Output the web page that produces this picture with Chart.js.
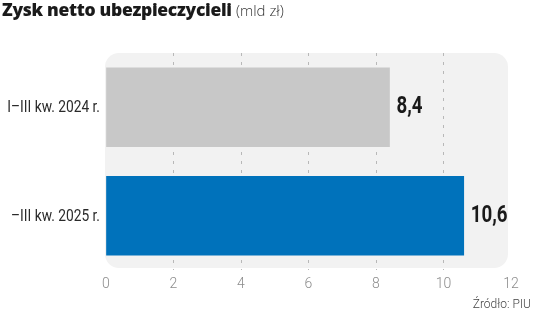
<!DOCTYPE html>
<html lang="pl">
<head>
<meta charset="utf-8">
<script src="https://cdn.jsdelivr.net/npm/chart.js@4"></script>
<style>
  html, body { margin: 0; padding: 0; background: #fff; }
  #wrap { position: relative; width: 536px; height: 317px; overflow: hidden; }
  #title {
    position: absolute; left: 2px; top: -3px; white-space: nowrap;
    font-family: "Open Sans", Lato, sans-serif; color: #1a1a1a;
  }
  #title b { font-weight: 800; font-size: 17.5px; letter-spacing: -0.3px; }
  #title span { font-weight: 300; font-size: 15px; color: #333; }
  #source {
    position: absolute; right: 5px; top: 297px;
    font-family: Roboto, sans-serif; font-weight: 300;
    font-size: 12px; color: #444;
  }
  #chart-box { position: absolute; left: 0; top: 0; width: 536px; height: 317px; }
</style>
</head>
<body>
<div id="wrap">
  <div id="chart-box"><canvas id="chart"></canvas></div>
  <div id="title"><b>Zysk netto ubezpieczycieli</b> <span>(mld zł)</span></div>
  <div id="source">Źródło: PIU</div>
</div>
<script>
const categories = ["I–III kw. 2024 r.", "–III kw. 2025 r."];
const values = [8.4, 10.6];
const barColors = ["#c8c8c8", "#0072bb"];
const xTicks = [0, 2, 4, 6, 8, 10, 12];

function formatPL(v) {
  return String(v).replace(".", ",");
}

// draws text squeezed horizontally (no condensed fonts installed)
function drawNarrow(ctx, text, x, y, squeeze, align) {
  ctx.save();
  ctx.translate(x, y);
  ctx.scale(squeeze, 1);
  ctx.textAlign = align;
  ctx.fillText(text, 0, 0);
  ctx.restore();
}

// rounded light-grey panel behind the bars
const panelPlugin = {
  id: "panel",
  beforeDraw(chart) {
    const { ctx, chartArea } = chart;
    const x = chartArea.left - 1;
    const y = chartArea.top;
    const w = chartArea.right - 3 - x;
    const h = chartArea.bottom - y - 2;
    ctx.save();
    ctx.fillStyle = "#f2f2f2";
    ctx.beginPath();
    ctx.roundRect(x, y, w, h, 14);
    ctx.fill();
    ctx.restore();
  }
};

// category names left of the panel
const categoryLabels = {
  id: "categoryLabels",
  afterDraw(chart) {
    const { ctx, chartArea } = chart;
    const yScale = chart.scales.y;
    ctx.save();
    ctx.font = "16px Roboto, sans-serif";
    ctx.fillStyle = "#2a2a2a";
    ctx.textBaseline = "middle";
    categories.forEach((c, i) => {
      drawNarrow(ctx, c, chartArea.left - 6, yScale.getPixelForValue(i) + 1, 0.86, "right");
    });
    ctx.restore();
  }
};

// value labels at bar ends
const valueLabels = {
  id: "valueLabels",
  afterDatasetsDraw(chart) {
    const { ctx } = chart;
    const meta = chart.getDatasetMeta(0);
    ctx.save();
    ctx.font = "bold 24px Roboto, sans-serif";
    ctx.fillStyle = "#1a1a1a";
    ctx.textBaseline = "middle";
    meta.data.forEach((bar, i) => {
      drawNarrow(ctx, formatPL(values[i]), bar.x + 7, bar.y, 0.78, "left");
    });
    ctx.restore();
  }
};

new Chart(document.getElementById("chart"), {
  type: "bar",
  data: {
    labels: categories,
    datasets: [{
      data: values,
      backgroundColor: barColors,
      borderWidth: 0,
      barThickness: 79
    }]
  },
  options: {
    indexAxis: "y",
    responsive: true,
    maintainAspectRatio: false,
    animation: false,
    layout: { padding: { top: 53, right: 25, bottom: 0, left: 0 } },
    plugins: {
      legend: { display: false },
      tooltip: { enabled: false }
    },
    scales: {
      x: {
        min: 0,
        max: 12,
        afterBuildTicks(scale) {
          scale.ticks = xTicks.map((v) => ({ value: v }));
        },
        afterFit(scale) { scale.height = 47; },
        grid: {
          drawTicks: false,
          color: (c) => (c.tick && (c.tick.value === 0 || c.tick.value === 12) ? "rgba(0,0,0,0)" : "#b8b8b8"),
          lineWidth: 1
        },
        border: { display: false, dash: [3, 6] },
        ticks: {
          padding: 6,
          color: "#8c8c8c",
          font: { family: "Roboto, sans-serif", size: 14, weight: "300" }
        }
      },
      y: {
        afterFit(scale) { scale.width = 106; },
        border: { display: false },
        grid: { display: false, drawTicks: false },
        ticks: { display: false }
      }
    }
  },
  plugins: [panelPlugin, categoryLabels, valueLabels]
});
</script>
</body>
</html>
